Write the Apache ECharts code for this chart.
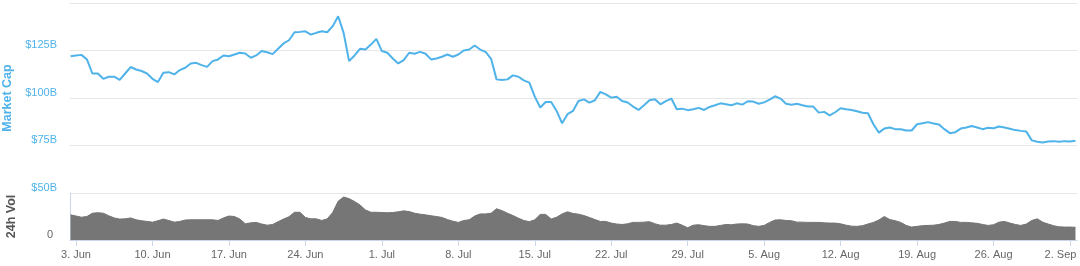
<!DOCTYPE html>
<html>
<head>
<meta charset="utf-8">
<script src="https://cdn.jsdelivr.net/npm/echarts@6/dist/echarts.min.js"></script>
<style>
html,body{margin:0;padding:0;background:#fff;}
#chart{width:1080px;height:266px;}
</style>
</head>
<body>
<div id="chart"></div>
<script>
// time axis in days from 3 Jun 2019 00:00
const firstSampleDay = -0.5;
const sampleStepDays = 0.5;
const xMinDay = -0.55;
const xMaxDay = 91.64;

const tickLabels = ['3. Jun','10. Jun','17. Jun','24. Jun','1. Jul','8. Jul','15. Jul','22. Jul','29. Jul','5. Aug','12. Aug','19. Aug','26. Aug','2. Sep'];

// Market cap, $B, every 12 hours
const marketCap = [
122.0,122.4,122.7,120.3,112.9,112.9,110.1,111.2,111.2,109.5,
112.9,116.3,115.0,114.2,112.9,110.1,108.4,113.3,113.6,112.4,
114.7,115.9,118.2,118.5,117.3,116.4,119.4,120.3,122.4,122.0,
122.9,123.8,123.4,121.2,122.4,124.7,124.1,123.1,125.9,128.7,
130.4,134.6,134.8,135.1,133.4,134.3,135.1,134.6,137.8,143.0,
134.3,119.4,122.4,125.9,125.5,128.1,131.1,124.7,123.8,120.8,
118.2,119.9,123.8,123.3,124.3,123.3,120.3,120.8,121.7,122.9,
121.7,122.9,125.0,125.5,127.6,125.5,124.3,120.6,109.8,109.5,
109.8,111.9,111.2,109.3,108.1,100.7,95.0,97.9,97.9,93.2,
86.7,91.5,93.2,98.4,99.3,97.6,98.8,103.2,101.9,100.2,
100.7,98.4,97.6,95.5,93.7,96.2,98.8,99.3,96.7,98.4,
99.7,94.1,94.4,93.6,94.1,94.8,93.7,95.3,96.2,97.2,
96.7,96.2,97.2,96.5,98.3,98.1,97.0,97.7,99.1,100.9,
99.7,97.0,96.5,97.0,96.2,95.5,95.5,92.3,92.7,90.9,
92.5,94.6,94.1,93.7,93.0,92.2,92.0,86.2,81.8,83.9,
84.5,83.6,83.6,82.9,82.9,86.2,86.7,87.3,86.6,86.1,
83.6,81.5,82.0,83.9,84.5,85.3,84.5,83.6,84.3,84.1,
85.0,84.5,83.8,83.1,82.7,82.4,77.7,77.0,76.6,77.1,
77.3,77.0,77.3,77.1,77.5
];

// 24h volume, $B, every 12 hours
const volume24h = [
10.7,10.2,9.7,10.0,11.4,11.6,11.4,10.3,9.4,8.9,
9.0,9.4,8.6,8.2,7.9,7.6,8.2,8.9,8.3,7.6,
7.9,8.5,8.6,8.6,8.6,8.6,8.6,8.3,9.4,10.2,
10.0,8.9,6.9,7.3,7.5,6.8,6.3,6.6,7.8,8.9,
9.9,11.8,11.8,9.6,9.0,9.0,8.3,9.0,11.7,16.5,
18.3,17.6,16.4,14.9,12.8,11.8,11.8,11.7,11.6,11.7,
12.0,12.4,12.1,11.4,11.0,10.7,10.3,10.0,9.6,8.7,
8.0,7.5,8.3,8.6,10.2,11.1,11.1,11.4,13.3,12.5,
11.4,10.4,9.3,8.3,7.8,8.6,10.9,10.9,8.9,9.7,
11.1,12.0,11.3,11.0,10.4,9.6,8.7,7.9,7.9,7.2,
6.8,6.6,6.9,7.5,7.5,7.6,7.8,6.9,6.3,6.3,
6.6,7.2,6.3,5.2,6.3,6.5,6.1,5.8,5.8,6.2,
6.6,6.5,6.8,6.9,6.8,6.1,5.8,6.2,7.5,8.5,
8.6,8.3,8.2,7.6,7.6,7.5,7.5,7.5,7.3,7.2,
7.2,6.9,6.3,5.9,5.8,6.1,6.8,7.5,8.5,10.0,
8.7,8.2,7.5,6.2,5.5,5.8,6.1,6.2,6.3,6.6,
7.2,7.9,7.9,7.5,7.5,7.3,7.1,6.6,6.2,6.5,
7.6,7.9,7.2,6.6,6.2,6.8,8.3,9.0,7.6,6.8,
6.1,5.6,5.5,5.5,5.4
];

const tickDays = tickLabels.map((_, i) => i * 7);
const capData = marketCap.map((v, i) => [firstSampleDay + i * sampleStepDays, v]);
const volData = volume24h.map((v, i) => [firstSampleDay + i * sampleStepDays, v]);

const FONT = '"Liberation Sans", Arial, sans-serif';
const BLUE = '#4fb3ea';

const chart = echarts.init(document.getElementById('chart'), null, {renderer: 'canvas'});
chart.setOption({
  animation: false,
  textStyle: {fontFamily: FONT},
  grid: [
    {left: 70, right: 3, top: 3, bottom: 73, containLabel: false, outerBoundsMode: 'none'},
    {left: 70, right: 3, top: 193, bottom: 26, containLabel: false, outerBoundsMode: 'none'}
  ],
  xAxis: [
    {
      gridIndex: 0, type: 'value', min: xMinDay, max: xMaxDay,
      axisLine: {show: false, onZero: false}, axisTick: {show: false}, axisLabel: {show: false}, splitLine: {show: false}
    },
    {
      gridIndex: 1, type: 'value', min: xMinDay, max: xMaxDay,
      axisLine: {show: true, onZero: false, lineStyle: {color: '#ccd6eb', width: 1}},
      axisTick: {show: true, customValues: tickDays, length: 6, lineStyle: {color: '#ccd6eb'}},
      axisLabel: {
        customValues: tickDays, color: '#666666', fontSize: 11, margin: 9, fontFamily: FONT,
        formatter: (v) => {
          const i = Math.round(v / 7);
          return i === tickLabels.length - 1 ? '{last|' + tickLabels[i] + '}' : tickLabels[i];
        },
        rich: {
          last: {color: '#666666', fontSize: 11, fontFamily: FONT, padding: [0, 19, 0, 0]}
        }
      },
      splitLine: {show: false}
    }
  ],
  yAxis: [
    {
      gridIndex: 0, type: 'value', min: 50, max: 150, interval: 25,
      name: 'Market Cap', nameLocation: 'middle', nameGap: 55,
      nameTextStyle: {color: BLUE, fontSize: 12.5, fontWeight: 'bold', fontFamily: FONT},
      axisLine: {show: false, onZero: false}, axisTick: {show: false},
      axisLabel: {
        color: BLUE, fontSize: 11, margin: 13, verticalAlign: 'bottom', fontFamily: FONT,
        formatter: (v) => v >= 150 ? '' : '$' + v + 'B'
      },
      splitLine: {show: true, lineStyle: {color: '#e6e6e6', width: 1}}
    },
    {
      gridIndex: 1, type: 'value', min: 0, max: 20,
      name: '24h Vol', nameLocation: 'middle', nameGap: 52,
      nameTextStyle: {color: '#555555', fontSize: 12.5, fontWeight: 'bold', fontFamily: FONT},
      axisLine: {show: true, onZero: false, lineStyle: {color: '#ccd6eb', width: 1}},
      axisTick: {show: false},
      axisLabel: {
        customValues: [0], color: '#666666', fontSize: 11, margin: 17, verticalAlign: 'bottom', fontFamily: FONT,
        formatter: (v) => String(v)
      },
      splitLine: {show: false}
    }
  ],
  series: [
    {
      type: 'line', xAxisIndex: 0, yAxisIndex: 0, data: capData,
      showSymbol: false, symbol: 'none',
      lineStyle: {color: BLUE, width: 2}, z: 3
    },
    {
      type: 'line', xAxisIndex: 1, yAxisIndex: 1, data: volData,
      showSymbol: false, symbol: 'none',
      lineStyle: {color: '#737373', width: 1},
      areaStyle: {color: '#767676', opacity: 1}
    }
  ]
});
</script>
</body>
</html>
